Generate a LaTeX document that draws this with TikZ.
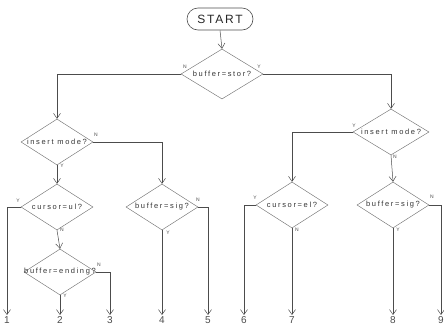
\documentclass[tikz,border=0pt]{standalone}
\usepackage{fontspec}
\setmainfont{Liberation Sans}
\usetikzlibrary{shapes.geometric,arrows.meta}
\begin{document}
\begin{tikzpicture}[x=1pt,y=-1pt,
  ink/.style={draw=black!70, line width=0.5pt},
  flow/.style={ink, -{Straight Barb[length=5pt,width=7pt]}},
  decision/.style={shape=diamond, draw=black!55, line width=0.45pt, inner sep=0pt,
    minimum width=72pt, minimum height=46pt},
  question/.style={font=\fontsize{7.5}{9}\selectfont\addfontfeature{LetterSpace=22},
    text=black!80, inner sep=0pt},
  terminal/.style={draw=black!70, line width=0.6pt, rounded corners=11pt,
    minimum width=66pt, minimum height=22pt,
    font=\fontsize{12}{14}\selectfont\addfontfeature{LetterSpace=15}, text=black!85},
  yn/.style={font=\fontsize{5}{6}\selectfont, text=black!70, inner sep=0pt},
  exitno/.style={font=\fontsize{10}{12}\selectfont, text=black!70, inner sep=1pt, anchor=north}
]
\useasboundingbox (0,0) rectangle (444,335);

% start terminal and first test
\node[terminal] (start) at (220,19) {START};
\node[decision, minimum width=82pt, minimum height=50pt] (d1) at (222,74) {};
\node[question] (q1) at (d1.center) {buffer=stor?};

% left-hand branch
\node[decision] (d2) at (57,142) {};
\node[question] (q2) at (d2.center) {insert mode?};
\node[decision] (d3) at (57,207) {};
\node[question] (q3) at (d3.center) {cursor=ul?};
\node[decision] (d5) at (60,272) {};
\node[question] (q5) at (d5.center) {buffer=ending?};
\node[decision] (d4) at (162,207) {};
\node[question] (q4) at (d4.center) {buffer=sig?};

% right-hand branch
\node[decision, minimum width=76pt] (d6) at (391,132) {};
\node[question] (q6) at (d6.center) {insert mode?};
\node[decision] (d7) at (292,205) {};
\node[question] (q7) at (d7.center) {cursor=el?};
\node[decision] (d8) at (393,205) {};
\node[question] (q8) at (d8.center) {buffer=sig?};

% numbered exits
\node[exitno] (e1) at (7,315) {1};
\node[exitno] (e2) at (60,315) {2};
\node[exitno] (e3) at (110,315) {3};
\node[exitno] (e4) at (162,315) {4};
\node[exitno] (e5) at (208,315) {5};
\node[exitno] (e6) at (244,315) {6};
\node[exitno] (e7) at (292,315) {7};
\node[exitno] (e8) at (393,315) {8};
\node[exitno] (e9) at (441,315) {9};

% connectors
\draw[flow] (start.south) -- (d1.north);
\draw[flow] (d1.west) -| (d2.north);
\draw[flow] (d1.east) -| (d6.north);
\draw[flow] (d2.east) -| (d4.north);
\draw[flow] (d2.south) -- (d3.north);
\draw[flow] (d3.west) -| (e1.north);
\draw[flow] (d3.south) -- (d5.north);
\draw[flow] (d5.south) -- (e2.north);
\draw[flow] (d5.east) -| (e3.north);
\draw[flow] (d4.south) -- (e4.north);
\draw[flow] (d4.east) -| (e5.north);
\draw[flow] (d6.west) -| (d7.north);
\draw[flow] (d6.south) -- (d8.north);
\draw[flow] (d7.west) -| (e6.north);
\draw[flow] (d7.south) -- (e7.north);
\draw[flow] (d8.south) -- (e8.north);
\draw[flow] (d8.east) -| (e9.north);

% branch labels
\node[yn] (l1n) at (185,67) {N};
\node[yn] (l1y) at (259,67) {Y};
\node[yn] (l2n) at (96,135) {N};
\node[yn] (l2y) at (62,166) {Y};
\node[yn] (l3y) at (18,201) {Y};
\node[yn] (l3n) at (62,230) {N};
\node[yn] (l5n) at (99,265) {N};
\node[yn] (l5y) at (65,296) {Y};
\node[yn] (l4n) at (198,200) {N};
\node[yn] (l4y) at (168,233) {Y};
\node[yn] (l6y) at (354,126) {Y};
\node[yn] (l6n) at (395,157) {N};
\node[yn] (l7y) at (255,198) {Y};
\node[yn] (l7n) at (297,230) {N};
\node[yn] (l8n) at (432,197) {N};
\node[yn] (l8y) at (398,230) {Y};
\end{tikzpicture}
\end{document}
